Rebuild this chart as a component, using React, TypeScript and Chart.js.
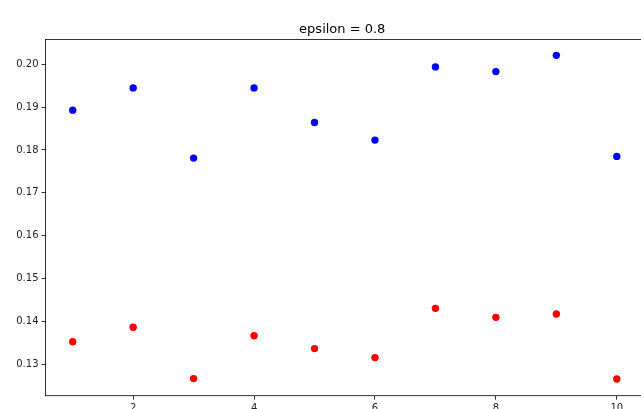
import React, { useEffect, useRef } from "react";
import { Chart, registerables } from "chart.js";

Chart.register(...registerables);

const titleText = "epsilon = 0.8";
const xValues = [1, 2, 3, 4, 5, 6, 7, 8, 9, 10];
const blueValues = [0.1893, 0.1945, 0.1781, 0.1945, 0.1864, 0.1823, 0.1994, 0.1983, 0.2021, 0.1785];
const redValues = [0.1352, 0.1386, 0.1266, 0.1366, 0.1336, 0.1315, 0.1430, 0.1409, 0.1417, 0.1265];
const xTicks = [2, 4, 6, 8, 10];
const yTicks = [0.13, 0.14, 0.15, 0.16, 0.17, 0.18, 0.19, 0.2];

const FONT = "'DejaVu Sans', sans-serif";
const CANVAS_W = 654;
const CANVAS_H = 430;

export default function App() {
  const ref = useRef<HTMLCanvasElement | null>(null);

  useEffect(() => {
    const canvas = ref.current;
    if (!canvas) return;
    document.body.style.margin = "0";
    document.body.style.overflow = "hidden";

    const frame = {
      id: "frame",
      afterDraw(chart: any) {
        const { ctx, chartArea } = chart;
        ctx.save();
        ctx.strokeStyle = "#000";
        ctx.lineWidth = 0.8;
        ctx.strokeRect(chartArea.left, chartArea.top, chartArea.right - chartArea.left, chartArea.bottom - chartArea.top);
        ctx.fillStyle = "#000";
        ctx.font = `13px ${FONT}`;
        ctx.textAlign = "center";
        ctx.textBaseline = "alphabetic";
        ctx.fillText(titleText, (chartArea.left + chartArea.right) / 2 - 2.5, chartArea.top - 6.8);
        ctx.restore();
      },
    };

    const chart = new Chart(canvas, {
      type: "scatter",
      data: {
        datasets: [
          {
            data: xValues.map((x, i) => ({ x, y: blueValues[i] })),
            backgroundColor: "#0000ff",
            borderColor: "#0000ff",
            pointRadius: 3.7,
            borderWidth: 0,
          },
          {
            data: xValues.map((x, i) => ({ x, y: redValues[i] })),
            backgroundColor: "#ff0000",
            borderColor: "#ff0000",
            pointRadius: 3.7,
            borderWidth: 0,
          },
        ],
      },
      options: {
        responsive: false,
        animation: false,
        layout: { padding: { top: 39.5, left: 0, right: 10, bottom: 0 } },
        plugins: {
          legend: { display: false },
          tooltip: { enabled: false },
          title: { display: false },
        },
        scales: {
          x: {
            type: "linear",
            min: 0.55,
            max: 10.45,
            afterBuildTicks: (s: any) => {
              s.ticks = xTicks.map((v) => ({ value: v }));
            },
            afterFit: (s: any) => {
              s.height = CANVAS_H - 395.7;
              s.paddingLeft = 0;
              s.paddingRight = 0;
            },
            border: { display: false },
            grid: {
              drawOnChartArea: false,
              drawTicks: true,
              tickLength: 4,
              color: "#000",
              lineWidth: 0.8,
            },
            ticks: {
              padding: 3,
              color: "#222",
              font: { family: FONT, size: 10 },
              maxRotation: 0,
              autoSkip: false,
            },
          },
          y: {
            type: "linear",
            min: 0.1226,
            max: 0.2058,
            afterBuildTicks: (s: any) => {
              s.ticks = yTicks.map((v) => ({ value: v }));
            },
            afterFit: (s: any) => {
              s.width = 45.5;
              s.paddingTop = 0;
              s.paddingBottom = 0;
            },
            border: { display: false },
            grid: {
              drawOnChartArea: false,
              drawTicks: true,
              tickLength: 4,
              color: "#000",
              lineWidth: 0.8,
            },
            ticks: {
              padding: 3,
              color: "#222",
              font: { family: FONT, size: 10 },
              autoSkip: false,
              callback: (v: any) => Number(v).toFixed(2),
            },
          },
        },
      },
      plugins: [frame],
    });

    return () => chart.destroy();
  }, []);

  return (
    <div style={{ position: "fixed", left: 0, top: 0, width: 641, height: 409, overflow: "hidden", background: "#fff" }}>
      <canvas ref={ref} width={CANVAS_W} height={CANVAS_H} style={{ width: CANVAS_W, height: CANVAS_H, display: "block" }} />
    </div>
  );
}
